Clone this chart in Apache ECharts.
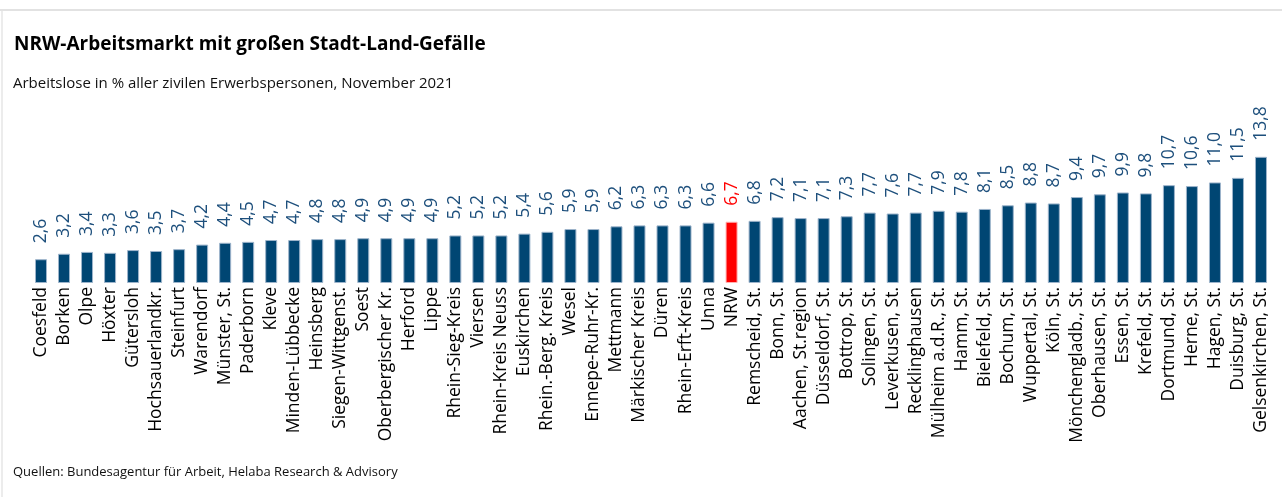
<!DOCTYPE html>
<html>
<head>
<meta charset="utf-8">
<script src="https://cdn.jsdelivr.net/npm/echarts@6/dist/echarts.min.js"></script>
<style>
html,body{margin:0;padding:0;background:#fff;}
#c{width:1282px;height:497px;}
</style>
</head>
<body>
<div id="c"></div>
<script>
var categories = ["Coesfeld","Borken","Olpe","Höxter","Gütersloh","Hochsauerlandkr.","Steinfurt","Warendorf","Münster, St.","Paderborn","Kleve","Minden-Lübbecke","Heinsberg","Siegen-Wittgenst.","Soest","Oberbergischer Kr.","Herford","Lippe","Rhein-Sieg-Kreis","Viersen","Rhein-Kreis Neuss","Euskirchen","Rhein.-Berg. Kreis","Wesel","Ennepe-Ruhr-Kr.","Mettmann","Märkischer Kreis","Düren","Rhein-Erft-Kreis","Unna","NRW","Remscheid, St.","Bonn, St.","Aachen, St.region","Düsseldorf, St.","Bottrop, St.","Solingen, St.","Leverkusen, St.","Recklinghausen","Mülheim a.d.R., St.","Hamm, St.","Bielefeld, St.","Bochum, St.","Wuppertal, St.","Köln, St.","Mönchengladb., St.","Oberhausen, St.","Essen, St.","Krefeld, St.","Dortmund, St.","Herne, St.","Hagen, St.","Duisburg, St.","Gelsenkirchen, St."];
var values = [2.6,3.2,3.4,3.3,3.6,3.5,3.7,4.2,4.4,4.5,4.7,4.7,4.8,4.8,4.9,4.9,4.9,4.9,5.2,5.2,5.2,5.4,5.6,5.9,5.9,6.2,6.3,6.3,6.3,6.6,6.7,6.8,7.2,7.1,7.1,7.3,7.7,7.6,7.7,7.9,7.8,8.1,8.5,8.8,8.7,9.4,9.7,9.9,9.8,10.7,10.6,11.0,11.5,13.8];
var highlight = "NRW";
var title = "NRW-Arbeitsmarkt mit großen Stadt-Land-Gefälle";
var subtitle = "Arbeitslose in % aller zivilen Erwerbspersonen, November 2021";
var source = "Quellen: Bundesagentur für Arbeit, Helaba Research & Advisory";

var BLUE = "#004673", RED = "#ff0000";
var data = values.map(function(v, i){
  var hl = categories[i] === highlight;
  return {
    value: v,
    itemStyle: {color: hl ? RED : BLUE, borderColor: hl ? "#ffb0b0" : "#9db4cb"},
    label: {color: hl ? RED : "#1d4f7c"}
  };
});
var chart = echarts.init(document.getElementById('c'), null, {renderer:'canvas'});
chart.setOption({
  animation:false,
  backgroundColor:'#fff',
  textStyle:{fontFamily:'Open Sans'},
  title:[
    {text:title, left:14, top:35, padding:0, textStyle:{fontFamily:'Open Sans', fontWeight:'bold', fontSize:19, color:'#000'}},
    {text:subtitle, left:13, top:76, padding:0, textStyle:{fontFamily:'Open Sans', fontWeight:'normal', fontSize:15, color:'#111'}},
    {text:source, left:13, top:466, padding:0, textStyle:{fontFamily:'Open Sans', fontWeight:'normal', fontSize:13, color:'#111'}}
  ],
  graphic:[
    {type:'rect', shape:{x:0,y:9,width:1282,height:2}, style:{fill:'#e2e2e2'}, silent:true},
    {type:'rect', shape:{x:1,y:11,width:2,height:486}, style:{fill:'#ececec'}, silent:true}
  ],
  grid:{left:29.5, right:9.5, top:155, bottom:214, containLabel:false},
  xAxis:{
    type:'category', data:categories,
    axisLine:{show:false}, axisTick:{show:false},
    axisLabel:{interval:0, rotate:90, margin:4, fontSize:17.5, color:'#000', fontFamily:'Open Sans'}
  },
  yAxis:{type:'value', min:0, max:14, show:false, splitLine:{show:false}},
  series:[{
    type:'bar', data:data, barWidth:12,
    itemStyle:{borderWidth:1},
    label:{show:true, position:'top', rotate:90, align:'left', verticalAlign:'middle', distance:16,
      fontSize:17.5, fontFamily:'Open Sans',
      formatter:function(p){return p.value.toFixed(1).replace('.', ',');}}
  }]
});
</script>
</body>
</html>
